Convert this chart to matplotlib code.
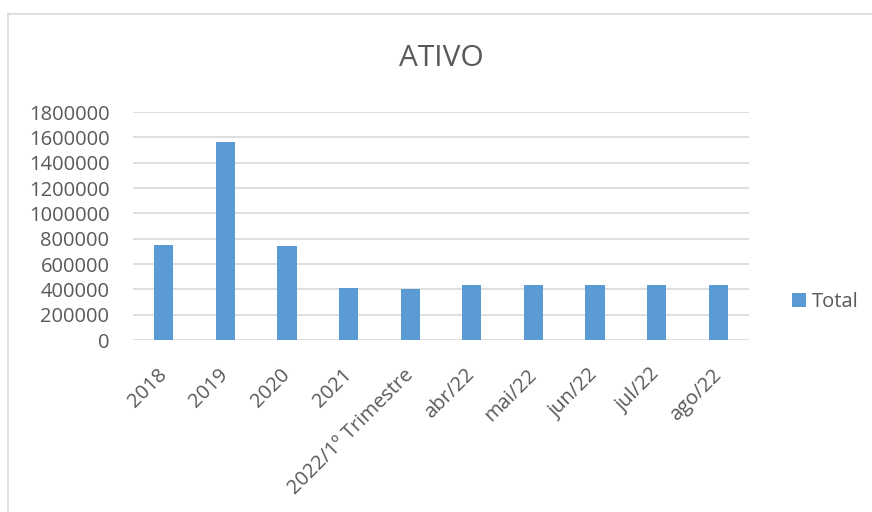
import matplotlib.pyplot as plt
from matplotlib.lines import Line2D
import numpy as np

# Data
categories = ["2018", "2019", "2020", "2021", "2022/1º Trimestre",
              "abr/22", "mai/22", "jun/22", "jul/22", "ago/22"]
totals = [750000, 1560000, 740000, 410000, 405000,
          431000, 431000, 431000, 431000, 431000]
yticks = np.arange(0, 1800001, 200000)

BAR = '#5B9BD5'
GRID = '#D9D9D9'
TXT = '#595959'
plt.rcParams['font.family'] = ['Open Sans', 'DejaVu Sans']

W, H = 872, 512
fig = plt.figure(figsize=(W / 100, H / 100), dpi=100)
ax = fig.add_axes([133 / W, 1 - 340 / H, (749 - 133) / W, (340 - 112) / H])

x = np.arange(len(categories))
ax.bar(x, totals, width=0.31, color=BAR, label='Total', zorder=3)

ax.set_xlim(-0.5, len(categories) - 0.5)
ax.set_ylim(0, 1800000)
ax.set_yticks(yticks)
ax.set_yticklabels([str(v) for v in yticks], fontsize=14.5, color=TXT)
ax.set_xticks(x)
ax.set_xticklabels(categories, fontsize=14.5, color=TXT, rotation=45,
                   ha='right', va='center', rotation_mode='anchor')
ax.tick_params(axis='both', length=0)
ax.tick_params(axis='y', pad=17)
ax.tick_params(axis='x', pad=23)

ax.grid(axis='y', color=GRID, linewidth=1.2, zorder=0)
for s in ax.spines.values():
    s.set_visible(False)

ax.set_title("ATIVO", fontsize=21.5, color=TXT, pad=33)

leg = ax.legend(loc='center left', bbox_to_anchor=(774 / W, 1 - 302 / H),
                bbox_transform=fig.transFigure, frameon=False,
                fontsize=14.5, handlelength=0.7, handleheight=0.7,
                handletextpad=0.3)
for t in leg.get_texts():
    t.set_color(TXT)

# chart border
fig.add_artist(Line2D([7.5 / W, 7.5 / W], [0, 1 - 13.5 / H],
                      transform=fig.transFigure, color=GRID, linewidth=1.2))
fig.add_artist(Line2D([7.5 / W, 1], [1 - 13.5 / H, 1 - 13.5 / H],
                      transform=fig.transFigure, color=GRID, linewidth=1.2))

fig.savefig("out.png", dpi=100, facecolor='white')
